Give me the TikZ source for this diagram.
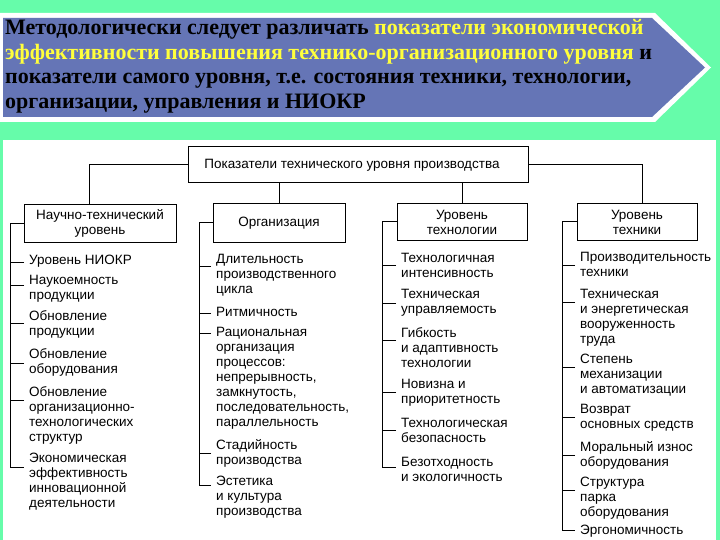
\documentclass[tikz,border=0pt]{standalone}
\usepackage{fontspec}
\setmainfont{Liberation Sans}
\newfontfamily\bannerfont{Liberation Serif}
\definecolor{bg}{RGB}{102,252,170}
\definecolor{bannerblue}{RGB}{101,117,182}
\definecolor{hl}{RGB}{255,255,60}
\begin{document}
\begin{tikzpicture}[x=1pt,y=-1pt,
  box/.style={draw=black, line width=1pt, fill=white, font=\fontsize{13.5}{15}\selectfont, align=center, inner sep=0},
  item/.style={font=\fontsize{13.5}{15}\selectfont, align=left, anchor=north west, inner sep=0},
  ln/.style={line width=1pt},
  btxt/.style={font=\bannerfont\bfseries\fontsize{22}{25}\selectfont, anchor=base west, inner sep=0}]
\useasboundingbox (0,0) rectangle (720,540);
\fill[bg] (0,0) rectangle (720,540);
\fill[white] (0,13) -- (655,13) -- (711,67.5) -- (655,122) -- (0,122) -- cycle;
\fill[bannerblue] (3,18) -- (652,18) -- (705,67.5) -- (652,117) -- (3,117) -- cycle;
\fill[white] (3,140) rectangle (716,540);
% banner text
\node[btxt] (l1) at (5,35) {Методологически следует различать \textcolor{hl}{показатели экономической}};
\node[btxt] (l2) at (5,59.5) {\textcolor{hl}{эффективности повышения технико-организационного уровня} и};
\node[btxt] (l3) at (5,84) {показатели самого уровня, т.е. состояния техники, технологии,};
\node[btxt] (l4) at (5,108.5) {организации, управления и НИОКР};
% boxes
\node[box, minimum width=340, minimum height=36] (top) at (358,165) {Показатели технического уровня производства\hspace*{12pt}};
\node[box, minimum width=152, minimum height=37] (b1) at (100,223.5) {Научно-технический\\уровень};
\node[box, minimum width=132, minimum height=38] (b2) at (279,223) {Организация};
\node[box, minimum width=130, minimum height=36] (b3) at (462,222) {Уровень\\технологии};
\node[box, minimum width=120, minimum height=36] (b4) at (637,222) {Уровень\\техники};
\draw[ln] (top.west) -| ([xshift=-11pt]b1.north);
\draw[ln] (top.east) -| ([xshift=5pt]b4.north);
\draw[ln] (top.south -| b2.north) -- (b2.north);
\draw[ln] (top.south -| b3.north) -- (b3.north);
% column 1
\node[item] (a1) at (29,255) {Уровень НИОКР};
\node[item] (a2) at (29,275) {Наукоемность\\продукции};
\node[item] (a3) at (29,310) {Обновление\\продукции};
\node[item] (a4) at (29,348) {Обновление\\оборудования};
\node[item] (a5) at (29,386) {Обновление\\организационно-\\технологических\\структур};
\node[item] (a6) at (29,453) {Экономическая\\эффективность\\инновационной\\деятельности};
\draw[ln] (b1.west) -- ++(-13,0) |- ([xshift=-5pt,yshift=-14pt]a6.north west);
\foreach \n/\dy in {a1/7,a2/10,a3/13,a4/15,a5/14}
  \draw[ln] ([xshift=-5pt,yshift=-\dy pt]\n.north west) -- ++(-13,0);
% column 2
\node[item] (c1) at (216,254) {Длительность\\производственного\\цикла};
\node[item] (c2) at (216,307) {Ритмичность};
\node[item] (c3) at (216,327) {Рациональная\\организация\\процессов:\\непрерывность,\\замкнутость,\\последовательность,\\параллельность};
\node[item] (c4) at (216,439) {Стадийность\\производства};
\node[item] (c5) at (216,476) {Эстетика\\и культура\\производства};
\draw[ln] (b2.west) -- ++(-13,0) |- ([xshift=-5pt,yshift=-9pt]c5.north west);
\foreach \n/\dy in {c1/12,c2/6,c3/6,c4/14}
  \draw[ln] ([xshift=-5pt,yshift=-\dy pt]\n.north west) -- ++(-11,0);
% column 3
\node[item] (d1) at (401,253) {Технологичная\\интенсивность};
\node[item] (d2) at (401,289) {Техническая\\управляемость};
\node[item] (d3) at (401,327) {Гибкость\\и адаптивность\\технологии};
\node[item] (d4) at (401,379) {Новизна и\\приоритетность};
\node[item] (d5) at (401,418) {Технологическая\\безопасность};
\node[item] (d6) at (401,457) {Безотходность\\и экологичность};
\draw[ln] (b3.west) -- ++(-14,0) |- ([xshift=-5pt,yshift=-10pt]d6.north west);
\foreach \n/\dy in {d1/12,d2/14,d3/13,d4/13,d5/12}
  \draw[ln] ([xshift=-5pt,yshift=-\dy pt]\n.north west) -- ++(-13,0);
% column 4
\node[item] (e1) at (580,252) {Производительность\\техники};
\node[item] (e2) at (580,289) {Техническая\\и энергетическая\\вооруженность\\труда};
\node[item] (e3) at (580,354) {Степень\\механизации\\и автоматизации};
\node[item] (e4) at (580,404) {Возврат\\основных средств};
\node[item] (e5) at (580,441) {Моральный износ\\оборудования};
\node[item] (e6) at (580,477) {Структура\\парка\\оборудования};
\node[item] (e7) at (580,525) {Эргономичность};
\draw[ln] (b4.west) -- ++(-14,0) |- ([xshift=-5pt,yshift=-5pt]e7.north west);
\foreach \n/\dy in {e1/13,e2/13,e3/13,e4/13,e5/14,e6/13}
  \draw[ln] ([xshift=-5pt,yshift=-\dy pt]\n.north west) -- ++(-12,0);
\end{tikzpicture}
\end{document}
